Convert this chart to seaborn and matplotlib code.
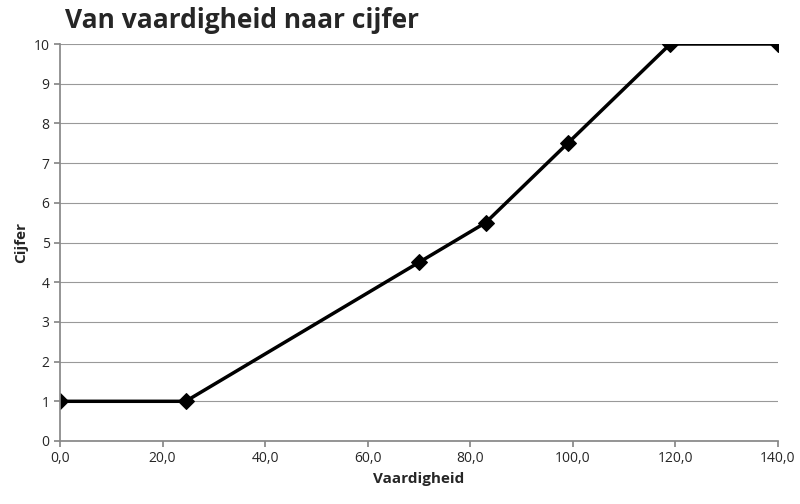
import matplotlib
matplotlib.use("Agg")
import matplotlib.pyplot as plt
import seaborn as sns
import pandas as pd

vaardigheid = [0, 24.5, 70, 83, 99, 119, 140]
cijfer = [1, 1, 4.5, 5.5, 7.5, 10, 10]
x_ticks = [0, 20, 40, 60, 80, 100, 120, 140]
y_ticks = list(range(0, 11))

sns.set_theme(style="white")
plt.rcParams['font.family'] = ['Open Sans', 'DejaVu Sans']

df = pd.DataFrame({'Vaardigheid': vaardigheid, 'Cijfer': cijfer})

fig = plt.figure(figsize=(8, 5.04), dpi=100)
ax = fig.add_axes([60 / 800, 1 - 441 / 504, 718 / 800, 397 / 504])
sns.lineplot(data=df, x='Vaardigheid', y='Cijfer', ax=ax, color='black',
             linewidth=2.5, marker='D', markersize=8, markeredgecolor='black')

ax.set_xlim(0, 140)
ax.set_ylim(0, 10)
ax.set_xticks(x_ticks)
ax.set_xticklabels([f"{t:.1f}".replace('.', ',') for t in x_ticks])
ax.set_yticks(y_ticks)
ax.yaxis.grid(True, color='#999999', linewidth=0.8)
ax.set_axisbelow(True)
for s in ['top', 'right']:
    ax.spines[s].set_visible(False)
for s in ['left', 'bottom']:
    ax.spines[s].set_color('#888888')
ax.tick_params(axis='both', labelsize=10, length=4, color='#888888', direction='out',
               left=True, bottom=True)
ax.set_xlabel('Vaardigheid', fontsize=11, fontweight='bold')
ax.set_ylabel('Cijfer', fontsize=11, fontweight='bold')
fig.text(65 / 800, 1 - 20 / 504, 'Van vaardigheid naar cijfer', fontsize=19,
         fontweight='bold', va='center', ha='left')

fig.savefig('out.png', dpi=100)
